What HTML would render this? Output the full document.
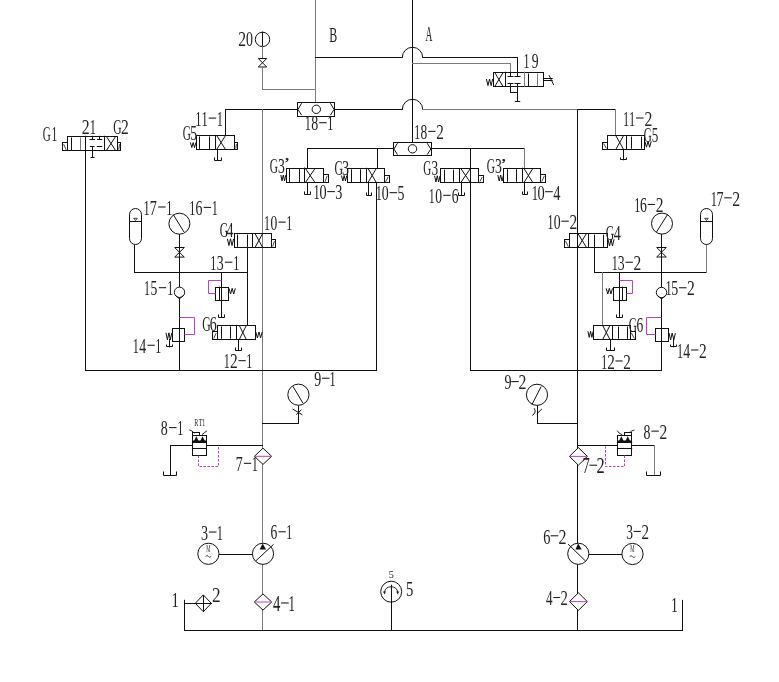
<!DOCTYPE html>
<html><head><meta charset="utf-8"><style>
html,body{margin:0;padding:0;background:#fff;}
svg{display:block;will-change:transform;}
text{font-family:"Liberation Serif",serif;font-size:100px;}
</style></head><body>
<svg width="779" height="682" viewBox="0 0 779 682">
<rect width="779" height="682" fill="#fff"/>
<line x1="412.50" y1="0.00" x2="412.50" y2="142.20" stroke="#111" stroke-width="1" stroke-linecap="square"/>
<line x1="315.50" y1="0.00" x2="315.50" y2="102.20" stroke="#7a7a7a" stroke-width="1" stroke-linecap="square"/>
<line x1="315.50" y1="57.50" x2="402.30" y2="57.50" stroke="#111" stroke-width="1" stroke-linecap="square"/>
<path d="M402.3,57.5 A10.2,10.2 0 0 1 422.7,57.5" fill="none" stroke="#111" stroke-width="1"/>
<line x1="422.70" y1="57.50" x2="517.50" y2="57.50" stroke="#111" stroke-width="1" stroke-linecap="square"/>
<line x1="517.50" y1="57.50" x2="517.50" y2="72.30" stroke="#111" stroke-width="1" stroke-linecap="square"/>
<line x1="412.50" y1="63.50" x2="510.50" y2="63.50" stroke="#7a7a7a" stroke-width="1" stroke-linecap="square"/>
<line x1="510.50" y1="63.50" x2="510.50" y2="72.30" stroke="#7a7a7a" stroke-width="1" stroke-linecap="square"/>
<circle cx="262.50" cy="39.40" r="7.20" fill="none" stroke="#111" stroke-width="1"/>
<line x1="262.50" y1="32.20" x2="262.50" y2="46.60" stroke="#111" stroke-width="1" stroke-linecap="square"/>
<line x1="262.50" y1="46.60" x2="262.50" y2="58.30" stroke="#7a7a7a" stroke-width="1" stroke-linecap="square"/>
<polygon points="258.30,58.50 266.70,58.50 258.30,67.00 266.70,67.00 258.30,58.50" fill="none" stroke="#111" stroke-width="1"/>
<line x1="262.50" y1="67.00" x2="262.50" y2="89.50" stroke="#7a7a7a" stroke-width="1" stroke-linecap="square"/>
<line x1="262.50" y1="89.50" x2="315.50" y2="89.50" stroke="#7a7a7a" stroke-width="1" stroke-linecap="square"/>
<line x1="225.50" y1="109.50" x2="297.40" y2="109.50" stroke="#111" stroke-width="1" stroke-linecap="square"/>
<line x1="225.50" y1="109.50" x2="225.50" y2="135.40" stroke="#111" stroke-width="1" stroke-linecap="square"/>
<line x1="334.60" y1="109.50" x2="402.30" y2="109.50" stroke="#111" stroke-width="1" stroke-linecap="square"/>
<path d="M402.3,109.5 A10.2,10.2 0 0 1 422.7,109.5" fill="none" stroke="#111" stroke-width="1"/>
<line x1="422.70" y1="109.50" x2="577.50" y2="109.50" stroke="#7a7a7a" stroke-width="1" stroke-linecap="square"/>
<line x1="577.50" y1="109.50" x2="615.50" y2="109.50" stroke="#111" stroke-width="1" stroke-linecap="square"/>
<line x1="615.50" y1="109.50" x2="615.50" y2="135.60" stroke="#7a7a7a" stroke-width="1" stroke-linecap="square"/>
<line x1="577.50" y1="109.50" x2="577.50" y2="630.50" stroke="#111" stroke-width="1" stroke-linecap="square"/>
<line x1="262.50" y1="109.50" x2="262.50" y2="630.50" stroke="#7a7a7a" stroke-width="1" stroke-linecap="square"/>
<line x1="307.50" y1="148.50" x2="393.30" y2="148.50" stroke="#111" stroke-width="1" stroke-linecap="square"/>
<line x1="307.50" y1="148.50" x2="307.50" y2="168.10" stroke="#111" stroke-width="1" stroke-linecap="square"/>
<line x1="377.50" y1="148.50" x2="377.50" y2="168.30" stroke="#111" stroke-width="1" stroke-linecap="square"/>
<line x1="431.40" y1="148.50" x2="524.50" y2="148.50" stroke="#111" stroke-width="1" stroke-linecap="square"/>
<line x1="470.50" y1="148.50" x2="470.50" y2="370.50" stroke="#111" stroke-width="1" stroke-linecap="square"/>
<line x1="524.50" y1="148.50" x2="524.50" y2="168.20" stroke="#7a7a7a" stroke-width="1" stroke-linecap="square"/>
<line x1="376.50" y1="182.70" x2="376.50" y2="370.50" stroke="#111" stroke-width="1" stroke-linecap="square"/>
<line x1="85.50" y1="150.50" x2="85.50" y2="370.50" stroke="#111" stroke-width="1" stroke-linecap="square"/>
<line x1="85.50" y1="370.50" x2="376.50" y2="370.50" stroke="#111" stroke-width="1" stroke-linecap="square"/>
<line x1="470.50" y1="370.50" x2="661.50" y2="370.50" stroke="#111" stroke-width="1" stroke-linecap="square"/>
<line x1="134.50" y1="245.10" x2="134.50" y2="272.50" stroke="#111" stroke-width="1" stroke-linecap="square"/>
<line x1="134.50" y1="272.50" x2="247.50" y2="272.50" stroke="#111" stroke-width="1" stroke-linecap="square"/>
<line x1="247.50" y1="247.40" x2="247.50" y2="325.40" stroke="#111" stroke-width="1" stroke-linecap="square"/>
<line x1="179.50" y1="234.30" x2="179.50" y2="370.50" stroke="#111" stroke-width="1" stroke-linecap="square"/>
<line x1="221.50" y1="272.50" x2="221.50" y2="317.20" stroke="#111" stroke-width="1" stroke-linecap="square"/>
<line x1="594.50" y1="247.40" x2="594.50" y2="272.50" stroke="#111" stroke-width="1" stroke-linecap="square"/>
<line x1="594.50" y1="272.50" x2="706.50" y2="272.50" stroke="#111" stroke-width="1" stroke-linecap="square"/>
<line x1="706.50" y1="244.60" x2="706.50" y2="272.50" stroke="#7a7a7a" stroke-width="1" stroke-linecap="square"/>
<line x1="602.50" y1="272.50" x2="602.50" y2="325.60" stroke="#7a7a7a" stroke-width="1" stroke-linecap="square"/>
<line x1="619.50" y1="272.50" x2="619.50" y2="317.20" stroke="#111" stroke-width="1" stroke-linecap="square"/>
<line x1="661.50" y1="234.30" x2="661.50" y2="370.50" stroke="#111" stroke-width="1" stroke-linecap="square"/>
<line x1="298.50" y1="405.00" x2="298.50" y2="423.50" stroke="#111" stroke-width="1" stroke-linecap="square"/>
<line x1="262.50" y1="423.50" x2="298.50" y2="423.50" stroke="#111" stroke-width="1" stroke-linecap="square"/>
<line x1="537.50" y1="405.50" x2="537.50" y2="423.50" stroke="#111" stroke-width="1" stroke-linecap="square"/>
<line x1="537.50" y1="423.50" x2="577.50" y2="423.50" stroke="#111" stroke-width="1" stroke-linecap="square"/>
<line x1="170.50" y1="445.50" x2="262.50" y2="445.50" stroke="#111" stroke-width="1" stroke-linecap="square"/>
<line x1="170.50" y1="445.50" x2="170.50" y2="475.20" stroke="#111" stroke-width="1" stroke-linecap="square"/>
<polyline points="163.50,471.50 163.50,475.50 176.50,475.50 176.50,471.50" fill="none" stroke="#111" stroke-width="1"/>
<line x1="577.50" y1="445.50" x2="654.50" y2="445.50" stroke="#111" stroke-width="1" stroke-linecap="square"/>
<line x1="654.50" y1="445.50" x2="654.50" y2="475.20" stroke="#7a7a7a" stroke-width="1" stroke-linecap="square"/>
<polyline points="646.50,471.50 646.50,475.50 660.50,475.50 660.50,471.50" fill="none" stroke="#111" stroke-width="1"/>
<line x1="219.30" y1="554.50" x2="252.20" y2="554.50" stroke="#111" stroke-width="1" stroke-linecap="square"/>
<line x1="589.00" y1="554.50" x2="622.20" y2="554.50" stroke="#111" stroke-width="1" stroke-linecap="square"/>
<line x1="184.50" y1="630.50" x2="682.50" y2="630.50" stroke="#111" stroke-width="1" stroke-linecap="square"/>
<line x1="184.50" y1="600.30" x2="184.50" y2="630.50" stroke="#111" stroke-width="1" stroke-linecap="square"/>
<line x1="184.50" y1="603.50" x2="195.30" y2="603.50" stroke="#111" stroke-width="1" stroke-linecap="square"/>
<line x1="682.50" y1="600.40" x2="682.50" y2="630.50" stroke="#111" stroke-width="1" stroke-linecap="square"/>
<line x1="391.50" y1="585.20" x2="391.50" y2="630.50" stroke="#111" stroke-width="1" stroke-linecap="square"/>
<rect x="297.5" y="102.5" width="37.0" height="14.0" fill="#fff" stroke="#111" stroke-width="1"/>
<polyline points="301.60,103.20 298.00,109.50 301.60,115.20" fill="none" stroke="#111" stroke-width="1"/>
<polyline points="330.40,103.20 334.00,109.50 330.40,115.20" fill="none" stroke="#111" stroke-width="1"/>
<circle cx="316.30" cy="109.30" r="4.20" fill="none" stroke="#111" stroke-width="1"/>
<rect x="393.5" y="142.5" width="38.0" height="13.0" fill="#fff" stroke="#111" stroke-width="1"/>
<polyline points="397.50,143.20 393.90,149.00 397.50,154.60" fill="none" stroke="#111" stroke-width="1"/>
<polyline points="427.20,143.20 430.80,149.00 427.20,154.60" fill="none" stroke="#111" stroke-width="1"/>
<circle cx="412.50" cy="148.80" r="4.20" fill="none" stroke="#111" stroke-width="1"/>
<rect x="67.5" y="136.5" width="50.0" height="14.0" fill="#fff" stroke="#111" stroke-width="1"/>
<line x1="85.50" y1="136.30" x2="85.50" y2="150.50" stroke="#111" stroke-width="1" stroke-linecap="square"/>
<line x1="104.50" y1="136.30" x2="104.50" y2="150.50" stroke="#111" stroke-width="1" stroke-linecap="square"/>
<line x1="71.50" y1="138.00" x2="71.50" y2="149.50" stroke="#111" stroke-width="1" stroke-linecap="square"/>
<line x1="80.50" y1="138.00" x2="80.50" y2="149.50" stroke="#7a7a7a" stroke-width="1" stroke-linecap="square"/>
<line x1="106.40" y1="136.50" x2="115.60" y2="150.50" stroke="#111" stroke-width="1"/>
<line x1="106.40" y1="150.50" x2="115.60" y2="136.50" stroke="#111" stroke-width="1"/>
<rect x="62.5" y="142.5" width="5.0" height="8.0" fill="none" stroke="#111" stroke-width="1"/>
<line x1="63.60" y1="144.20" x2="66.20" y2="149.70" stroke="#111" stroke-width="0.8"/>
<rect x="117.5" y="142.5" width="3.0" height="8.0" fill="none" stroke="#111" stroke-width="1"/>
<line x1="118.80" y1="149.70" x2="119.50" y2="144.20" stroke="#111" stroke-width="0.8"/>
<line x1="92.50" y1="136.30" x2="92.50" y2="139.50" stroke="#111" stroke-width="1" stroke-linecap="square"/>
<line x1="90.00" y1="139.50" x2="94.50" y2="139.50" stroke="#111" stroke-width="1" stroke-linecap="square"/>
<line x1="99.50" y1="136.30" x2="99.50" y2="139.50" stroke="#111" stroke-width="1" stroke-linecap="square"/>
<line x1="97.50" y1="139.50" x2="101.80" y2="139.50" stroke="#111" stroke-width="1" stroke-linecap="square"/>
<line x1="90.30" y1="146.50" x2="94.00" y2="146.50" stroke="#111" stroke-width="1" stroke-linecap="square"/>
<line x1="97.30" y1="146.50" x2="101.80" y2="146.50" stroke="#111" stroke-width="1" stroke-linecap="square"/>
<line x1="92.50" y1="146.50" x2="92.50" y2="157.50" stroke="#111" stroke-width="1" stroke-linecap="square"/>
<polyline points="90.50,157.50 90.50,157.50 94.50,157.50 94.50,157.50" fill="none" stroke="#111" stroke-width="1"/>
<rect x="196.5" y="135.5" width="38.0" height="14.0" fill="none" stroke="#111" stroke-width="1"/>
<line x1="199.50" y1="136.90" x2="199.50" y2="148.40" stroke="#111" stroke-width="1" stroke-linecap="square"/>
<line x1="209.50" y1="136.90" x2="209.50" y2="148.40" stroke="#111" stroke-width="1" stroke-linecap="square"/>
<line x1="215.50" y1="135.40" x2="215.50" y2="149.40" stroke="#111" stroke-width="1" stroke-linecap="square"/>
<line x1="216.70" y1="135.50" x2="225.50" y2="149.50" stroke="#111" stroke-width="1"/>
<line x1="216.70" y1="149.50" x2="225.50" y2="135.50" stroke="#111" stroke-width="1"/>
<rect x="234.5" y="142.5" width="3.0" height="7.0" fill="none" stroke="#111" stroke-width="1"/>
<line x1="235.90" y1="148.60" x2="236.40" y2="143.90" stroke="#111" stroke-width="0.8"/>
<polyline points="190.40,142.50 191.78,147.50 193.15,142.50 194.53,147.50 195.90,142.50" fill="none" stroke="#111" stroke-width="1"/>
<line x1="217.50" y1="149.50" x2="217.50" y2="160.00" stroke="#111" stroke-width="1" stroke-linecap="square"/>
<polyline points="214.50,157.50 214.50,160.50 221.50,160.50 221.50,157.50" fill="none" stroke="#111" stroke-width="1"/>
<rect x="607.5" y="135.5" width="37.0" height="14.0" fill="none" stroke="#111" stroke-width="1"/>
<line x1="631.50" y1="137.10" x2="631.50" y2="148.20" stroke="#111" stroke-width="1" stroke-linecap="square"/>
<line x1="641.50" y1="137.10" x2="641.50" y2="148.20" stroke="#111" stroke-width="1" stroke-linecap="square"/>
<line x1="626.50" y1="135.60" x2="626.50" y2="149.20" stroke="#111" stroke-width="1" stroke-linecap="square"/>
<line x1="615.80" y1="135.50" x2="623.60" y2="149.50" stroke="#111" stroke-width="1"/>
<line x1="615.80" y1="149.50" x2="623.60" y2="135.50" stroke="#111" stroke-width="1"/>
<rect x="602.5" y="142.5" width="5.0" height="7.0" fill="none" stroke="#111" stroke-width="1"/>
<line x1="603.60" y1="143.50" x2="606.40" y2="148.40" stroke="#111" stroke-width="0.8"/>
<polyline points="644.90,141.40 646.48,147.20 648.05,141.40 649.62,147.20 651.20,141.40" fill="none" stroke="#111" stroke-width="1"/>
<line x1="623.50" y1="149.50" x2="623.50" y2="159.80" stroke="#111" stroke-width="1" stroke-linecap="square"/>
<polyline points="620.50,157.50 620.50,159.50 626.50,159.50 626.50,157.50" fill="none" stroke="#111" stroke-width="1"/>
<rect x="493.5" y="72.5" width="50.0" height="14.0" fill="#fff" stroke="#111" stroke-width="1"/>
<line x1="505.50" y1="72.30" x2="505.50" y2="86.40" stroke="#111" stroke-width="1" stroke-linecap="square"/>
<line x1="524.50" y1="72.30" x2="524.50" y2="86.40" stroke="#7a7a7a" stroke-width="1" stroke-linecap="square"/>
<line x1="528.50" y1="74.00" x2="528.50" y2="85.50" stroke="#111" stroke-width="1" stroke-linecap="square"/>
<line x1="537.50" y1="74.00" x2="537.50" y2="85.50" stroke="#7a7a7a" stroke-width="1" stroke-linecap="square"/>
<line x1="494.80" y1="72.50" x2="503.00" y2="86.50" stroke="#111" stroke-width="1"/>
<line x1="494.80" y1="86.50" x2="503.00" y2="72.50" stroke="#111" stroke-width="1"/>
<line x1="510.50" y1="72.30" x2="510.50" y2="76.50" stroke="#111" stroke-width="1" stroke-linecap="square"/>
<line x1="508.00" y1="76.50" x2="513.00" y2="76.50" stroke="#111" stroke-width="1" stroke-linecap="square"/>
<line x1="517.50" y1="72.30" x2="517.50" y2="76.50" stroke="#111" stroke-width="1" stroke-linecap="square"/>
<line x1="515.00" y1="76.50" x2="520.00" y2="76.50" stroke="#111" stroke-width="1" stroke-linecap="square"/>
<line x1="508.00" y1="83.50" x2="513.00" y2="83.50" stroke="#111" stroke-width="1" stroke-linecap="square"/>
<line x1="515.00" y1="83.50" x2="520.00" y2="83.50" stroke="#111" stroke-width="1" stroke-linecap="square"/>
<line x1="510.50" y1="83.50" x2="510.50" y2="92.50" stroke="#111" stroke-width="1" stroke-linecap="square"/>
<line x1="510.50" y1="92.50" x2="517.50" y2="92.50" stroke="#111" stroke-width="1" stroke-linecap="square"/>
<line x1="517.50" y1="83.50" x2="517.50" y2="101.00" stroke="#111" stroke-width="1" stroke-linecap="square"/>
<line x1="515.30" y1="101.50" x2="519.70" y2="101.50" stroke="#111" stroke-width="1" stroke-linecap="square"/>
<line x1="543.70" y1="78.50" x2="552.20" y2="78.50" stroke="#111" stroke-width="1" stroke-linecap="square"/>
<line x1="543.70" y1="80.50" x2="552.20" y2="80.50" stroke="#111" stroke-width="1" stroke-linecap="square"/>
<line x1="549.00" y1="75.20" x2="553.80" y2="85.10" stroke="#111" stroke-width="1"/>
<polyline points="486.40,79.00 487.97,85.60 489.55,79.00 491.12,85.60 492.70,79.00" fill="none" stroke="#111" stroke-width="1"/>
<rect x="286.5" y="168.5" width="37.0" height="14.0" fill="none" stroke="#111" stroke-width="1"/>
<line x1="289.50" y1="169.60" x2="289.50" y2="181.50" stroke="#111" stroke-width="1" stroke-linecap="square"/>
<line x1="299.50" y1="169.60" x2="299.50" y2="181.50" stroke="#111" stroke-width="1" stroke-linecap="square"/>
<line x1="304.50" y1="168.10" x2="304.50" y2="182.50" stroke="#111" stroke-width="1" stroke-linecap="square"/>
<line x1="305.40" y1="168.50" x2="315.00" y2="182.50" stroke="#111" stroke-width="1"/>
<line x1="305.40" y1="182.50" x2="315.00" y2="168.50" stroke="#111" stroke-width="1"/>
<rect x="323.5" y="174.5" width="5.0" height="8.0" fill="none" stroke="#111" stroke-width="1"/>
<line x1="325.00" y1="181.70" x2="327.20" y2="175.80" stroke="#111" stroke-width="0.8"/>
<polyline points="280.80,175.00 282.05,180.80 283.30,175.00 284.55,180.80 285.80,175.00" fill="none" stroke="#111" stroke-width="1"/>
<line x1="307.50" y1="182.50" x2="307.50" y2="194.00" stroke="#111" stroke-width="1" stroke-linecap="square"/>
<polyline points="304.50,191.50 304.50,194.50 310.50,194.50 310.50,191.50" fill="none" stroke="#111" stroke-width="1"/>
<rect x="347.5" y="168.5" width="37.0" height="14.0" fill="none" stroke="#111" stroke-width="1"/>
<line x1="351.50" y1="169.80" x2="351.50" y2="181.70" stroke="#111" stroke-width="1" stroke-linecap="square"/>
<line x1="360.50" y1="169.80" x2="360.50" y2="181.70" stroke="#111" stroke-width="1" stroke-linecap="square"/>
<line x1="366.50" y1="168.30" x2="366.50" y2="182.70" stroke="#111" stroke-width="1" stroke-linecap="square"/>
<line x1="368.00" y1="168.50" x2="376.30" y2="182.50" stroke="#111" stroke-width="1"/>
<line x1="368.00" y1="182.50" x2="376.30" y2="168.50" stroke="#111" stroke-width="1"/>
<rect x="384.5" y="175.5" width="5.0" height="7.0" fill="none" stroke="#111" stroke-width="1"/>
<line x1="385.50" y1="181.90" x2="388.30" y2="176.70" stroke="#111" stroke-width="0.8"/>
<polyline points="341.50,175.50 342.82,181.00 344.15,175.50 345.48,181.00 346.80,175.50" fill="none" stroke="#111" stroke-width="1"/>
<line x1="368.50" y1="182.50" x2="368.50" y2="195.00" stroke="#111" stroke-width="1" stroke-linecap="square"/>
<polyline points="366.50,192.50 366.50,195.50 371.50,195.50 371.50,192.50" fill="none" stroke="#111" stroke-width="1"/>
<rect x="440.5" y="168.5" width="38.0" height="14.0" fill="none" stroke="#111" stroke-width="1"/>
<line x1="444.50" y1="170.20" x2="444.50" y2="181.30" stroke="#111" stroke-width="1" stroke-linecap="square"/>
<line x1="453.50" y1="170.20" x2="453.50" y2="181.30" stroke="#111" stroke-width="1" stroke-linecap="square"/>
<line x1="459.50" y1="168.70" x2="459.50" y2="182.30" stroke="#111" stroke-width="1" stroke-linecap="square"/>
<line x1="460.80" y1="168.50" x2="470.40" y2="182.50" stroke="#111" stroke-width="1"/>
<line x1="460.80" y1="182.50" x2="470.40" y2="168.50" stroke="#111" stroke-width="1"/>
<rect x="478.5" y="175.5" width="5.0" height="7.0" fill="none" stroke="#111" stroke-width="1"/>
<line x1="479.90" y1="181.50" x2="482.30" y2="176.90" stroke="#111" stroke-width="0.8"/>
<polyline points="434.60,175.80 435.95,182.00 437.30,175.80 438.65,182.00 440.00,175.80" fill="none" stroke="#111" stroke-width="1"/>
<line x1="461.50" y1="182.50" x2="461.50" y2="195.00" stroke="#111" stroke-width="1" stroke-linecap="square"/>
<polyline points="458.50,192.50 458.50,195.50 464.50,195.50 464.50,192.50" fill="none" stroke="#111" stroke-width="1"/>
<rect x="503.5" y="168.5" width="37.0" height="14.0" fill="none" stroke="#111" stroke-width="1"/>
<line x1="507.50" y1="169.70" x2="507.50" y2="181.30" stroke="#111" stroke-width="1" stroke-linecap="square"/>
<line x1="516.50" y1="169.70" x2="516.50" y2="181.30" stroke="#111" stroke-width="1" stroke-linecap="square"/>
<line x1="522.50" y1="168.20" x2="522.50" y2="182.30" stroke="#111" stroke-width="1" stroke-linecap="square"/>
<line x1="524.00" y1="168.50" x2="532.80" y2="182.50" stroke="#111" stroke-width="1"/>
<line x1="524.00" y1="182.50" x2="532.80" y2="168.50" stroke="#111" stroke-width="1"/>
<rect x="540.5" y="174.5" width="5.0" height="8.0" fill="none" stroke="#111" stroke-width="1"/>
<line x1="541.70" y1="181.50" x2="544.40" y2="175.90" stroke="#111" stroke-width="0.8"/>
<polyline points="497.80,175.00 499.23,181.00 500.65,175.00 502.07,181.00 503.50,175.00" fill="none" stroke="#111" stroke-width="1"/>
<line x1="524.50" y1="182.50" x2="524.50" y2="194.00" stroke="#111" stroke-width="1" stroke-linecap="square"/>
<polyline points="522.50,191.50 522.50,194.50 527.50,194.50 527.50,191.50" fill="none" stroke="#111" stroke-width="1"/>
<rect x="234.5" y="233.5" width="37.0" height="14.0" fill="none" stroke="#111" stroke-width="1"/>
<line x1="237.50" y1="235.10" x2="237.50" y2="246.40" stroke="#111" stroke-width="1" stroke-linecap="square"/>
<line x1="247.50" y1="235.10" x2="247.50" y2="246.40" stroke="#111" stroke-width="1" stroke-linecap="square"/>
<line x1="252.50" y1="233.60" x2="252.50" y2="247.40" stroke="#111" stroke-width="1" stroke-linecap="square"/>
<line x1="255.00" y1="233.50" x2="262.70" y2="247.50" stroke="#111" stroke-width="1"/>
<line x1="255.00" y1="247.50" x2="262.70" y2="233.50" stroke="#111" stroke-width="1"/>
<rect x="271.5" y="239.5" width="4.0" height="8.0" fill="none" stroke="#111" stroke-width="1"/>
<line x1="272.70" y1="246.60" x2="274.40" y2="241.10" stroke="#111" stroke-width="0.8"/>
<polyline points="227.40,238.80 228.95,245.50 230.50,238.80 232.05,245.50 233.60,238.80" fill="none" stroke="#111" stroke-width="1"/>
<rect x="569.5" y="233.5" width="38.0" height="14.0" fill="none" stroke="#111" stroke-width="1"/>
<line x1="594.50" y1="235.10" x2="594.50" y2="246.40" stroke="#111" stroke-width="1" stroke-linecap="square"/>
<line x1="603.50" y1="235.10" x2="603.50" y2="246.40" stroke="#111" stroke-width="1" stroke-linecap="square"/>
<line x1="588.50" y1="233.60" x2="588.50" y2="247.40" stroke="#111" stroke-width="1" stroke-linecap="square"/>
<line x1="577.90" y1="233.50" x2="586.50" y2="247.50" stroke="#111" stroke-width="1"/>
<line x1="577.90" y1="247.50" x2="586.50" y2="233.50" stroke="#111" stroke-width="1"/>
<rect x="564.5" y="239.5" width="5.0" height="8.0" fill="none" stroke="#111" stroke-width="1"/>
<line x1="565.50" y1="241.10" x2="568.30" y2="246.60" stroke="#111" stroke-width="0.8"/>
<polyline points="608.00,239.30 609.50,246.00 611.00,239.30 612.50,246.00 614.00,239.30" fill="none" stroke="#111" stroke-width="1"/>
<rect x="217.5" y="325.5" width="38.0" height="14.0" fill="none" stroke="#111" stroke-width="1"/>
<line x1="221.50" y1="326.90" x2="221.50" y2="338.20" stroke="#111" stroke-width="1" stroke-linecap="square"/>
<line x1="230.50" y1="326.90" x2="230.50" y2="338.20" stroke="#111" stroke-width="1" stroke-linecap="square"/>
<line x1="236.50" y1="325.40" x2="236.50" y2="339.20" stroke="#111" stroke-width="1" stroke-linecap="square"/>
<line x1="239.30" y1="325.50" x2="246.30" y2="339.50" stroke="#111" stroke-width="1"/>
<line x1="239.30" y1="339.50" x2="246.30" y2="325.50" stroke="#111" stroke-width="1"/>
<rect x="212.5" y="331.5" width="5.0" height="8.0" fill="none" stroke="#111" stroke-width="1"/>
<line x1="213.70" y1="338.40" x2="216.10" y2="333.20" stroke="#111" stroke-width="0.8"/>
<polyline points="255.80,332.00 257.40,337.90 259.00,332.00 260.60,337.90 262.20,332.00" fill="none" stroke="#111" stroke-width="1"/>
<line x1="238.50" y1="339.50" x2="238.50" y2="350.20" stroke="#111" stroke-width="1" stroke-linecap="square"/>
<polyline points="235.50,347.50 235.50,350.50 241.50,350.50 241.50,347.50" fill="none" stroke="#111" stroke-width="1"/>
<rect x="593.5" y="325.5" width="37.0" height="14.0" fill="none" stroke="#111" stroke-width="1"/>
<line x1="618.50" y1="327.10" x2="618.50" y2="338.20" stroke="#111" stroke-width="1" stroke-linecap="square"/>
<line x1="627.50" y1="327.10" x2="627.50" y2="338.20" stroke="#111" stroke-width="1" stroke-linecap="square"/>
<line x1="612.50" y1="325.60" x2="612.50" y2="339.20" stroke="#111" stroke-width="1" stroke-linecap="square"/>
<line x1="602.70" y1="325.50" x2="609.90" y2="339.50" stroke="#111" stroke-width="1"/>
<line x1="602.70" y1="339.50" x2="609.90" y2="325.50" stroke="#111" stroke-width="1"/>
<rect x="630.5" y="331.5" width="5.0" height="8.0" fill="none" stroke="#111" stroke-width="1"/>
<line x1="631.30" y1="332.80" x2="634.40" y2="338.40" stroke="#111" stroke-width="0.8"/>
<polyline points="587.90,331.30 589.23,337.40 590.55,331.30 591.88,337.40 593.20,331.30" fill="none" stroke="#111" stroke-width="1"/>
<line x1="610.50" y1="339.50" x2="610.50" y2="350.20" stroke="#111" stroke-width="1" stroke-linecap="square"/>
<polyline points="606.50,347.50 606.50,350.50 614.50,350.50 614.50,347.50" fill="none" stroke="#111" stroke-width="1"/>
<rect x="215.5" y="287.5" width="13.0" height="13.0" fill="none" stroke="#111" stroke-width="1"/>
<line x1="219.50" y1="287.20" x2="219.50" y2="300.30" stroke="#111" stroke-width="1" stroke-linecap="square"/>
<polyline points="221.50,280.50 208.50,280.50 208.50,293.50 215.50,293.50" fill="none" stroke="#c040c0" stroke-width="1"/>
<polyline points="229.00,288.30 230.57,294.00 232.15,288.30 233.73,294.00 235.30,288.30" fill="none" stroke="#111" stroke-width="1"/>
<line x1="221.50" y1="300.30" x2="221.50" y2="317.20" stroke="#111" stroke-width="1" stroke-linecap="square"/>
<polyline points="218.50,314.50 218.50,317.50 224.50,317.50 224.50,314.50" fill="none" stroke="#111" stroke-width="1"/>
<rect x="613.5" y="287.5" width="13.0" height="13.0" fill="none" stroke="#111" stroke-width="1"/>
<line x1="622.50" y1="287.20" x2="622.50" y2="300.30" stroke="#111" stroke-width="1" stroke-linecap="square"/>
<polyline points="619.50,280.50 632.50,280.50 632.50,293.50 626.50,293.50" fill="none" stroke="#c040c0" stroke-width="1"/>
<polyline points="606.20,288.30 607.78,294.00 609.35,288.30 610.92,294.00 612.50,288.30" fill="none" stroke="#111" stroke-width="1"/>
<line x1="619.50" y1="300.30" x2="619.50" y2="317.20" stroke="#111" stroke-width="1" stroke-linecap="square"/>
<polyline points="616.50,314.50 616.50,317.50 622.50,317.50 622.50,314.50" fill="none" stroke="#111" stroke-width="1"/>
<rect x="172.5" y="328.5" width="12.0" height="13.0" fill="none" stroke="#111" stroke-width="1"/>
<polyline points="179.50,317.50 194.50,317.50 194.50,334.50 184.50,334.50" fill="none" stroke="#c040c0" stroke-width="1"/>
<polyline points="166.00,332.80 167.45,339.80 168.90,332.80 170.35,339.80 171.80,332.80" fill="none" stroke="#111" stroke-width="1"/>
<line x1="169.50" y1="339.50" x2="169.50" y2="346.90" stroke="#111" stroke-width="1" stroke-linecap="square"/>
<polyline points="166.50,344.50 166.50,346.50 172.50,346.50 172.50,344.50" fill="none" stroke="#111" stroke-width="1"/>
<rect x="655.5" y="328.5" width="13.0" height="13.0" fill="none" stroke="#111" stroke-width="1"/>
<polyline points="661.50,317.50 646.50,317.50 646.50,334.50 655.50,334.50" fill="none" stroke="#c040c0" stroke-width="1"/>
<polyline points="669.00,333.00 670.60,340.00 672.20,333.00 673.80,340.00 675.40,333.00" fill="none" stroke="#111" stroke-width="1"/>
<line x1="673.50" y1="339.50" x2="673.50" y2="346.90" stroke="#111" stroke-width="1" stroke-linecap="square"/>
<polyline points="670.50,344.50 670.50,346.50 676.50,346.50 676.50,344.50" fill="none" stroke="#111" stroke-width="1"/>
<circle cx="179.50" cy="292.30" r="5.20" fill="white" stroke="#111" stroke-width="1"/>
<polyline points="175.70,295.50 179.50,298.80 183.30,295.50" fill="none" stroke="#111" stroke-width="1"/>
<circle cx="661.50" cy="292.50" r="5.20" fill="white" stroke="#111" stroke-width="1"/>
<polyline points="657.70,295.70 661.50,299.00 665.30,295.70" fill="none" stroke="#111" stroke-width="1"/>
<circle cx="179.40" cy="223.70" r="10.50" fill="#fff" stroke="#111" stroke-width="1"/>
<line x1="173.20" y1="214.50" x2="184.00" y2="232.00" stroke="#111" stroke-width="1"/>
<polygon points="174.70,247.50 184.30,247.50 174.70,257.10 184.30,257.10 174.70,247.50" fill="none" stroke="#111" stroke-width="1"/>
<circle cx="662.00" cy="223.60" r="10.50" fill="#fff" stroke="#111" stroke-width="1"/>
<line x1="656.50" y1="232.00" x2="667.50" y2="214.50" stroke="#111" stroke-width="1"/>
<polygon points="656.70,247.50 666.30,247.50 656.70,257.00 666.30,257.00 656.70,247.50" fill="none" stroke="#111" stroke-width="1"/>
<rect x="129.50" y="208.50" width="12.00" height="36.00" rx="6.00" ry="6.00" fill="#fff" stroke="#111" stroke-width="1"/>
<line x1="130.00" y1="221.50" x2="141.00" y2="221.50" stroke="#111" stroke-width="1" stroke-linecap="square"/>
<polygon points="133.70,218.30 137.30,218.30 135.50,220.50" fill="none" stroke="#111" stroke-width="0.8"/>
<rect x="700.50" y="208.50" width="12.00" height="36.00" rx="6.00" ry="6.00" fill="#fff" stroke="#111" stroke-width="1"/>
<line x1="701.00" y1="221.50" x2="712.00" y2="221.50" stroke="#111" stroke-width="1" stroke-linecap="square"/>
<polygon points="704.70,218.30 708.30,218.30 706.50,220.50" fill="none" stroke="#111" stroke-width="0.8"/>
<circle cx="298.40" cy="394.70" r="10.60" fill="#fff" stroke="#111" stroke-width="1"/>
<line x1="292.90" y1="386.30" x2="303.10" y2="403.40" stroke="#111" stroke-width="1"/>
<line x1="292.60" y1="409.00" x2="302.50" y2="414.90" stroke="#111" stroke-width="1"/>
<line x1="296.20" y1="414.60" x2="301.50" y2="409.70" stroke="#111" stroke-width="1"/>
<circle cx="537.00" cy="394.80" r="10.60" fill="#fff" stroke="#111" stroke-width="1"/>
<line x1="532.00" y1="404.50" x2="541.20" y2="386.50" stroke="#111" stroke-width="1"/>
<path d="M532.3,415.4 Q536.8,412.5 534.2,408.2" fill="none" stroke="#111" stroke-width="1"/>
<line x1="536.80" y1="413.80" x2="541.90" y2="409.00" stroke="#111" stroke-width="1"/>
<rect x="192.5" y="435.5" width="14.0" height="20.0" fill="#fff" stroke="#111" stroke-width="1"/>
<line x1="192.40" y1="442.50" x2="206.50" y2="442.50" stroke="#111" stroke-width="1" stroke-linecap="square"/>
<line x1="192.40" y1="448.50" x2="206.50" y2="448.50" stroke="#111" stroke-width="1" stroke-linecap="square"/>
<rect x="192.5" y="432.5" width="7.0" height="3.0" fill="none" stroke="#111" stroke-width="1"/>
<polygon points="193.2,442.5 196.4,436.3 199.2,442.5" fill="#111"/>
<polygon points="199.6,442.5 202.5,436.3 205.7,442.5" fill="#111"/>
<rect x="192.9" y="440.5" width="13.1" height="2" fill="#111"/>
<path d="M189.2,429.8 Q192,430.5 194.5,433.2" fill="none" stroke="#111" stroke-width="0.9"/>
<path d="M207.0,430.8 Q204,433 201.8,434.8" fill="none" stroke="#111" stroke-width="0.9"/>
<polyline points="198.50,455.50 198.50,466.50 218.50,466.50 218.50,446.50" fill="none" stroke="#c040c0" stroke-width="1" stroke-dasharray="2.5,1.5"/>
<rect x="617.5" y="435.5" width="14.0" height="20.0" fill="#fff" stroke="#111" stroke-width="1"/>
<line x1="617.40" y1="442.50" x2="631.70" y2="442.50" stroke="#111" stroke-width="1" stroke-linecap="square"/>
<line x1="617.40" y1="448.50" x2="631.70" y2="448.50" stroke="#111" stroke-width="1" stroke-linecap="square"/>
<rect x="624.5" y="432.5" width="7.0" height="3.0" fill="none" stroke="#111" stroke-width="1"/>
<polygon points="618.2,442.5 621.4,436.3 624.3,442.5" fill="#111"/>
<polygon points="624.8,442.5 627.7,436.3 630.9,442.5" fill="#111"/>
<rect x="617.9" y="440.5" width="13.3" height="2" fill="#111"/>
<path d="M617.2,430.6 Q618.5,433.5 622.3,434.8" fill="none" stroke="#111" stroke-width="0.9"/>
<path d="M634.5,430.0 Q631.5,430.5 630.0,432.3" fill="none" stroke="#111" stroke-width="0.9"/>
<polyline points="624.50,455.50 624.50,466.50 605.50,466.50 605.50,446.50" fill="none" stroke="#c040c0" stroke-width="1" stroke-dasharray="2.5,1.5"/>
<polygon points="263.00,448.20 271.60,456.30 263.00,464.40 254.40,456.30" fill="white" stroke="#111" stroke-width="1"/>
<line x1="254.40" y1="456.30" x2="271.60" y2="456.30" stroke="#c040c0" stroke-width="1"/>
<polygon points="578.40,447.60 587.40,456.40 578.40,465.20 569.40,456.40" fill="white" stroke="#111" stroke-width="1"/>
<line x1="569.40" y1="456.40" x2="587.40" y2="456.40" stroke="#c040c0" stroke-width="1"/>
<polygon points="263.00,593.90 271.70,602.00 263.00,610.10 254.30,602.00" fill="white" stroke="#111" stroke-width="1"/>
<line x1="254.30" y1="602.00" x2="271.70" y2="602.00" stroke="#c040c0" stroke-width="1"/>
<polygon points="578.40,592.75 587.25,601.60 578.40,610.45 569.55,601.60" fill="white" stroke="#111" stroke-width="1"/>
<line x1="569.55" y1="601.60" x2="587.25" y2="601.60" stroke="#c040c0" stroke-width="1"/>
<polygon points="203.30,594.90 211.30,603.30 203.30,611.70 195.30,603.30" fill="white" stroke="#111" stroke-width="1"/>
<line x1="195.30" y1="603.50" x2="211.40" y2="603.50" stroke="#111" stroke-width="1" stroke-linecap="square"/>
<line x1="203.50" y1="595.50" x2="203.50" y2="611.50" stroke="#111" stroke-width="1" stroke-linecap="square"/>
<circle cx="263.00" cy="553.80" r="10.60" fill="#fff" stroke="#111" stroke-width="1"/>
<polygon points="262.60,543.40 259.70,549.50 266.10,549.50" fill="#111"/>
<line x1="255.70" y1="561.00" x2="273.60" y2="544.30" stroke="#111" stroke-width="1"/>
<circle cx="578.30" cy="553.80" r="10.60" fill="#fff" stroke="#111" stroke-width="1"/>
<polygon points="578.20,543.40 575.40,549.50 581.70,549.50" fill="#111"/>
<line x1="568.10" y1="544.10" x2="585.50" y2="561.00" stroke="#111" stroke-width="1"/>
<circle cx="208.40" cy="553.80" r="10.60" fill="#fff" stroke="#111" stroke-width="1"/>
<text transform="translate(206.26,551.90) scale(0.0481,0.0962)" fill="#333">M</text>
<path d="M205.60,556.40 q1.4,-1.8 2.8,0 t2.8,0" fill="none" stroke="#333" stroke-width="0.9"/>
<circle cx="632.50" cy="554.00" r="10.60" fill="#fff" stroke="#111" stroke-width="1"/>
<text transform="translate(630.36,552.10) scale(0.0481,0.0962)" fill="#333">M</text>
<path d="M629.70,556.60 q1.4,-1.8 2.8,0 t2.8,0" fill="none" stroke="#333" stroke-width="0.9"/>
<circle cx="391.20" cy="591.70" r="10.50" fill="none" stroke="#111" stroke-width="1"/>
<path d="M384.4,592.4 A6.8,6.8 0 0 1 397.8,592.4" fill="none" stroke="#222" stroke-width="1"/>
<polygon points="382.9,591.6 385.9,591.6 384.6,594.6" fill="#222"/>
<polygon points="396.3,591.6 399.3,591.6 397.6,594.6" fill="#222"/>
<text transform="translate(42.75,141.30) scale(0.1105,0.2009)" fill="#222">G</text>
<text transform="translate(51.57,141.30) scale(0.1165,0.2009)" fill="#222">1</text>
<text transform="translate(81.71,133.70) scale(0.1576,0.2130)" fill="#222">2</text>
<text transform="translate(89.76,133.70) scale(0.1235,0.2130)" fill="#222">1</text>
<text transform="translate(113.33,134.19) scale(0.1154,0.2098)" fill="#222">G</text>
<text transform="translate(120.99,134.19) scale(0.1553,0.2098)" fill="#222">2</text>
<text transform="translate(238.31,45.79) scale(0.1568,0.2119)" fill="#222">2</text>
<text transform="translate(246.04,45.79) scale(0.1398,0.2119)" fill="#222">0</text>
<text transform="translate(329.26,41.84) scale(0.1188,0.2036)" fill="#222">B</text>
<text transform="translate(425.40,40.80) scale(0.0950,0.2182)" fill="#222">A</text>
<text transform="translate(523.44,67.59) scale(0.1200,0.2068)" fill="#222">1</text>
<text transform="translate(531.73,67.59) scale(0.1365,0.2068)" fill="#222">9</text>
<text transform="translate(195.21,126.00) scale(0.1239,0.2136)" fill="#222">1</text>
<text transform="translate(201.39,126.00) scale(0.1239,0.2136)" fill="#222">1</text>
<rect x="208.66" y="117.55" width="7.45" height="1.1" fill="#222"/>
<text transform="translate(216.85,126.00) scale(0.1239,0.2136)" fill="#222">1</text>
<text transform="translate(182.64,139.89) scale(0.1129,0.2054)" fill="#222">G</text>
<text transform="translate(190.35,139.89) scale(0.1355,0.2054)" fill="#222">5</text>
<text transform="translate(304.82,130.49) scale(0.1229,0.2119)" fill="#222">1</text>
<text transform="translate(311.21,130.49) scale(0.1398,0.2119)" fill="#222">8</text>
<rect x="319.20" y="122.14" width="7.56" height="1.1" fill="#222"/>
<text transform="translate(327.19,130.49) scale(0.1229,0.2119)" fill="#222">1</text>
<text transform="translate(414.26,138.90) scale(0.1186,0.2044)" fill="#222">1</text>
<text transform="translate(420.44,138.90) scale(0.1349,0.2044)" fill="#222">8</text>
<rect x="428.16" y="130.82" width="7.29" height="1.1" fill="#222"/>
<text transform="translate(436.27,138.90) scale(0.1513,0.2044)" fill="#222">2</text>
<text transform="translate(623.01,125.90) scale(0.1235,0.2130)" fill="#222">1</text>
<text transform="translate(629.00,125.90) scale(0.1235,0.2130)" fill="#222">1</text>
<rect x="636.08" y="117.45" width="7.45" height="1.1" fill="#222"/>
<text transform="translate(644.49,125.90) scale(0.1576,0.2130)" fill="#222">2</text>
<text transform="translate(643.75,141.60) scale(0.1097,0.1994)" fill="#222">G</text>
<text transform="translate(651.83,141.60) scale(0.1316,0.1994)" fill="#222">5</text>
<text transform="translate(269.73,173.49) scale(0.1138,0.2068)" fill="#222">G</text>
<text transform="translate(278.01,173.49) scale(0.1365,0.2068)" fill="#222">3</text>
<text transform="translate(282.93,169.14) scale(0.2349,0.1751)" fill="#222">’</text>
<text transform="translate(313.60,199.49) scale(0.1246,0.2148)" fill="#222">1</text>
<text transform="translate(319.61,199.49) scale(0.1418,0.2148)" fill="#222">0</text>
<rect x="327.22" y="191.03" width="7.66" height="1.1" fill="#222"/>
<text transform="translate(335.26,199.49) scale(0.1418,0.2148)" fill="#222">3</text>
<text transform="translate(334.42,174.59) scale(0.1179,0.2143)" fill="#222">G</text>
<text transform="translate(341.98,174.59) scale(0.1414,0.2143)" fill="#222">3</text>
<text transform="translate(375.73,200.39) scale(0.1220,0.2104)" fill="#222">1</text>
<text transform="translate(381.84,200.39) scale(0.1388,0.2104)" fill="#222">0</text>
<rect x="389.53" y="192.10" width="7.51" height="1.1" fill="#222"/>
<text transform="translate(397.50,200.39) scale(0.1388,0.2104)" fill="#222">5</text>
<text transform="translate(423.35,175.20) scale(0.1105,0.2009)" fill="#222">G</text>
<text transform="translate(431.59,175.20) scale(0.1326,0.2009)" fill="#222">3</text>
<text transform="translate(428.75,202.89) scale(0.1194,0.2059)" fill="#222">1</text>
<text transform="translate(435.22,202.89) scale(0.1359,0.2059)" fill="#222">0</text>
<rect x="443.22" y="194.77" width="7.35" height="1.1" fill="#222"/>
<text transform="translate(451.71,202.89) scale(0.1359,0.2059)" fill="#222">6</text>
<text transform="translate(486.73,173.49) scale(0.1138,0.2068)" fill="#222">G</text>
<text transform="translate(494.91,173.49) scale(0.1365,0.2068)" fill="#222">3</text>
<text transform="translate(499.79,169.84) scale(0.2282,0.1751)" fill="#222">’</text>
<text transform="translate(531.79,199.68) scale(0.1263,0.2178)" fill="#222">1</text>
<text transform="translate(537.61,199.68) scale(0.1437,0.2178)" fill="#222">0</text>
<rect x="545.05" y="191.12" width="7.77" height="1.1" fill="#222"/>
<text transform="translate(553.34,199.68) scale(0.1437,0.2178)" fill="#222">4</text>
<text transform="translate(143.41,214.90) scale(0.1239,0.2136)" fill="#222">1</text>
<text transform="translate(149.74,214.90) scale(0.1410,0.2136)" fill="#222">7</text>
<rect x="158.18" y="206.45" width="7.45" height="1.1" fill="#222"/>
<text transform="translate(166.35,214.90) scale(0.1239,0.2136)" fill="#222">1</text>
<text transform="translate(189.23,215.09) scale(0.1217,0.2098)" fill="#222">1</text>
<text transform="translate(195.58,215.09) scale(0.1385,0.2098)" fill="#222">6</text>
<rect x="203.67" y="206.85" width="7.45" height="1.1" fill="#222"/>
<text transform="translate(211.65,215.09) scale(0.1217,0.2098)" fill="#222">1</text>
<text transform="translate(219.82,237.29) scale(0.1162,0.2113)" fill="#222">G</text>
<text transform="translate(226.55,237.29) scale(0.1395,0.2113)" fill="#222">4</text>
<text transform="translate(264.05,229.69) scale(0.1194,0.2059)" fill="#222">1</text>
<text transform="translate(270.45,229.69) scale(0.1359,0.2059)" fill="#222">0</text>
<rect x="278.39" y="221.57" width="7.35" height="1.1" fill="#222"/>
<text transform="translate(286.34,229.69) scale(0.1194,0.2059)" fill="#222">1</text>
<text transform="translate(210.13,269.89) scale(0.1217,0.2098)" fill="#222">1</text>
<text transform="translate(216.67,269.89) scale(0.1385,0.2098)" fill="#222">3</text>
<rect x="224.91" y="261.65" width="7.45" height="1.1" fill="#222"/>
<text transform="translate(233.15,269.89) scale(0.1217,0.2098)" fill="#222">1</text>
<text transform="translate(143.95,295.19) scale(0.1195,0.2060)" fill="#222">1</text>
<text transform="translate(150.49,295.19) scale(0.1359,0.2060)" fill="#222">5</text>
<rect x="158.83" y="287.12" width="7.29" height="1.1" fill="#222"/>
<text transform="translate(167.14,295.19) scale(0.1195,0.2060)" fill="#222">1</text>
<text transform="translate(202.32,331.19) scale(0.1162,0.2113)" fill="#222">G</text>
<text transform="translate(209.65,331.19) scale(0.1395,0.2113)" fill="#222">6</text>
<text transform="translate(132.63,353.00) scale(0.1213,0.2091)" fill="#222">1</text>
<text transform="translate(139.25,353.00) scale(0.1380,0.2091)" fill="#222">4</text>
<rect x="147.48" y="344.72" width="7.29" height="1.1" fill="#222"/>
<text transform="translate(155.26,353.00) scale(0.1213,0.2091)" fill="#222">1</text>
<text transform="translate(223.74,368.40) scale(0.1209,0.2085)" fill="#222">1</text>
<text transform="translate(229.98,368.40) scale(0.1543,0.2085)" fill="#222">2</text>
<rect x="238.45" y="360.12" width="7.29" height="1.1" fill="#222"/>
<text transform="translate(246.28,368.40) scale(0.1209,0.2085)" fill="#222">1</text>
<text transform="translate(547.53,228.89) scale(0.1212,0.2089)" fill="#222">1</text>
<text transform="translate(553.65,228.89) scale(0.1379,0.2089)" fill="#222">0</text>
<rect x="561.34" y="220.65" width="7.45" height="1.1" fill="#222"/>
<text transform="translate(569.42,228.89) scale(0.1546,0.2089)" fill="#222">2</text>
<text transform="translate(605.82,239.59) scale(0.1170,0.2128)" fill="#222">G</text>
<text transform="translate(613.70,239.59) scale(0.1404,0.2128)" fill="#222">4</text>
<text transform="translate(634.14,212.09) scale(0.1208,0.2083)" fill="#222">1</text>
<text transform="translate(640.06,212.09) scale(0.1375,0.2083)" fill="#222">6</text>
<rect x="647.72" y="203.91" width="7.40" height="1.1" fill="#222"/>
<text transform="translate(655.64,212.09) scale(0.1542,0.2083)" fill="#222">2</text>
<text transform="translate(710.81,205.70) scale(0.1235,0.2130)" fill="#222">1</text>
<text transform="translate(716.48,205.70) scale(0.1406,0.2130)" fill="#222">7</text>
<rect x="724.27" y="197.25" width="7.45" height="1.1" fill="#222"/>
<text transform="translate(732.19,205.70) scale(0.1576,0.2130)" fill="#222">2</text>
<text transform="translate(611.84,269.89) scale(0.1208,0.2083)" fill="#222">1</text>
<text transform="translate(617.82,269.89) scale(0.1375,0.2083)" fill="#222">3</text>
<rect x="625.49" y="261.71" width="7.40" height="1.1" fill="#222"/>
<text transform="translate(633.54,269.89) scale(0.1542,0.2083)" fill="#222">2</text>
<text transform="translate(665.52,295.49) scale(0.1226,0.2113)" fill="#222">1</text>
<text transform="translate(671.33,295.49) scale(0.1395,0.2113)" fill="#222">5</text>
<rect x="678.99" y="287.20" width="7.51" height="1.1" fill="#222"/>
<text transform="translate(687.04,295.49) scale(0.1564,0.2113)" fill="#222">2</text>
<text transform="translate(628.84,332.00) scale(0.1121,0.2039)" fill="#222">G</text>
<text transform="translate(636.58,332.00) scale(0.1346,0.2039)" fill="#222">6</text>
<text transform="translate(601.35,368.60) scale(0.1192,0.2054)" fill="#222">1</text>
<text transform="translate(607.30,368.60) scale(0.1520,0.2054)" fill="#222">2</text>
<rect x="615.44" y="360.43" width="7.19" height="1.1" fill="#222"/>
<text transform="translate(623.33,368.60) scale(0.1520,0.2054)" fill="#222">2</text>
<text transform="translate(677.04,357.70) scale(0.1209,0.2085)" fill="#222">1</text>
<text transform="translate(683.27,357.70) scale(0.1376,0.2085)" fill="#222">4</text>
<rect x="691.13" y="349.42" width="7.29" height="1.1" fill="#222"/>
<text transform="translate(698.94,357.70) scale(0.1543,0.2085)" fill="#222">2</text>
<text transform="translate(314.35,385.99) scale(0.1395,0.2113)" fill="#222">9</text>
<rect x="321.97" y="377.70" width="7.51" height="1.1" fill="#222"/>
<text transform="translate(329.61,385.99) scale(0.1226,0.2113)" fill="#222">1</text>
<text transform="translate(504.45,389.39) scale(0.1404,0.2128)" fill="#222">9</text>
<rect x="511.21" y="381.04" width="7.56" height="1.1" fill="#222"/>
<text transform="translate(518.39,389.39) scale(0.1575,0.2128)" fill="#222">2</text>
<text transform="translate(160.67,435.39) scale(0.1398,0.2119)" fill="#222">8</text>
<rect x="168.97" y="427.04" width="7.56" height="1.1" fill="#222"/>
<text transform="translate(177.29,435.39) scale(0.1229,0.2119)" fill="#222">1</text>
<text transform="translate(194.32,426.40) scale(0.0609,0.1015)" fill="#222">R</text>
<text transform="translate(198.69,426.40) scale(0.0609,0.1015)" fill="#222">T</text>
<text transform="translate(202.21,426.40) scale(0.0589,0.1015)" fill="#222">1</text>
<text transform="translate(235.78,471.10) scale(0.1390,0.2106)" fill="#222">7</text>
<rect x="243.84" y="462.77" width="7.35" height="1.1" fill="#222"/>
<text transform="translate(251.63,471.10) scale(0.1222,0.2106)" fill="#222">1</text>
<text transform="translate(643.57,438.89) scale(0.1388,0.2104)" fill="#222">8</text>
<rect x="651.32" y="430.60" width="7.51" height="1.1" fill="#222"/>
<text transform="translate(659.47,438.89) scale(0.1557,0.2104)" fill="#222">2</text>
<text transform="translate(582.44,473.40) scale(0.1456,0.2205)" fill="#222">7</text>
<rect x="589.42" y="464.67" width="7.72" height="1.1" fill="#222"/>
<text transform="translate(596.54,473.40) scale(0.1632,0.2205)" fill="#222">2</text>
<text transform="translate(201.02,539.89) scale(0.1414,0.2143)" fill="#222">3</text>
<rect x="208.88" y="531.49" width="7.61" height="1.1" fill="#222"/>
<text transform="translate(216.73,539.89) scale(0.1243,0.2143)" fill="#222">1</text>
<text transform="translate(270.52,539.29) scale(0.1355,0.2054)" fill="#222">6</text>
<rect x="278.45" y="531.22" width="7.29" height="1.1" fill="#222"/>
<text transform="translate(286.26,539.29) scale(0.1191,0.2054)" fill="#222">1</text>
<text transform="translate(171.50,607.20) scale(0.1477,0.2015)" fill="#222">1</text>
<text transform="translate(211.94,601.90) scale(0.1721,0.1994)" fill="#222">2</text>
<text transform="translate(273.01,611.20) scale(0.1470,0.2227)" fill="#222">4</text>
<rect x="280.95" y="602.42" width="7.77" height="1.1" fill="#222"/>
<text transform="translate(288.42,611.20) scale(0.1292,0.2227)" fill="#222">1</text>
<text transform="translate(388.71,577.89) scale(0.1017,0.1053)" fill="#222">5</text>
<text transform="translate(406.05,596.20) scale(0.1464,0.2015)" fill="#222">5</text>
<text transform="translate(543.19,543.68) scale(0.1424,0.2158)" fill="#222">6</text>
<rect x="550.66" y="535.23" width="7.66" height="1.1" fill="#222"/>
<text transform="translate(558.39,543.68) scale(0.1597,0.2158)" fill="#222">2</text>
<text transform="translate(626.15,538.90) scale(0.1346,0.2039)" fill="#222">3</text>
<rect x="633.58" y="530.88" width="7.24" height="1.1" fill="#222"/>
<text transform="translate(641.39,538.90) scale(0.1509,0.2039)" fill="#222">2</text>
<text transform="translate(545.94,604.90) scale(0.1316,0.1994)" fill="#222">4</text>
<rect x="553.26" y="596.96" width="6.98" height="1.1" fill="#222"/>
<text transform="translate(560.53,604.90) scale(0.1476,0.1994)" fill="#222">2</text>
<text transform="translate(671.00,611.50) scale(0.1364,0.2182)" fill="#222">1</text>
</svg></body></html>
